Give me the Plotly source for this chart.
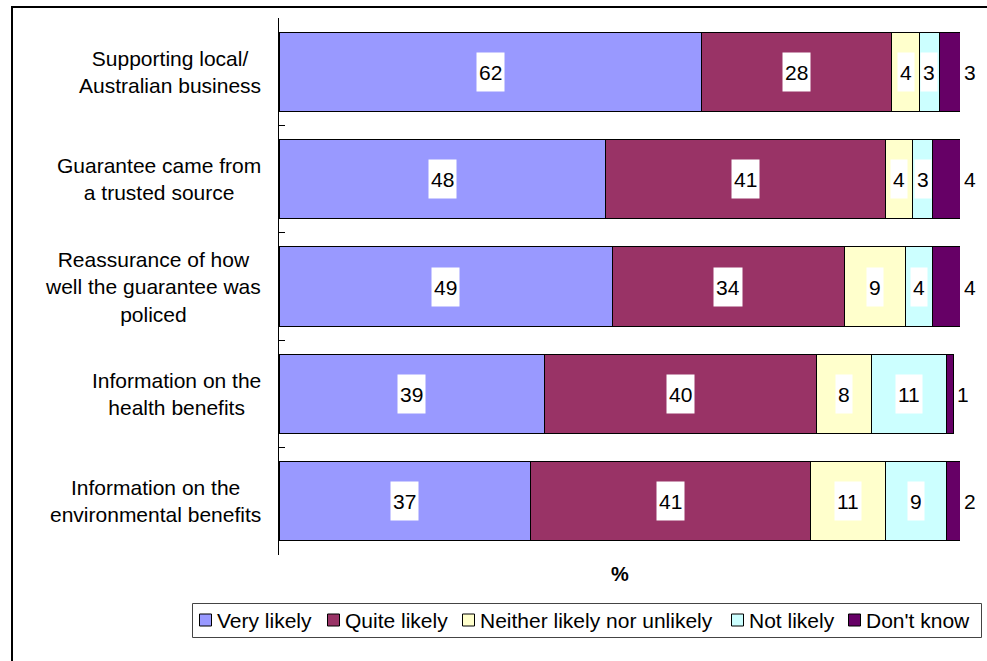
import plotly.graph_objects as go

# ---- data ----
categories = [
    "Supporting local/<br>Australian business",
    "Guarantee came from<br>a trusted source",
    "Reassurance of how<br>well the guarantee was<br>policed",
    "Information on the<br>health benefits",
    "Information on the<br>environmental benefits",
]
series_names = ["Very likely", "Quite likely", "Neither likely nor unlikely",
                "Not likely", "Don't know"]
very_likely = [62, 48, 49, 39, 37]
quite_likely = [28, 41, 34, 40, 41]
neither = [4, 4, 9, 8, 11]
not_likely = [3, 3, 4, 11, 9]
dont_know = [3, 4, 4, 1, 2]
series_values = [very_likely, quite_likely, neither, not_likely, dont_know]
colors = ["#9999FF", "#993366", "#FFFFCC", "#CCFFFF", "#660066"]

# ---- layout geometry (pixels) ----
W, H = 987, 661
L, R, T, B = 279, 27, 18, 106
PW, PH = W - L - R, H - T - B
FONT = "Liberation Sans, Arial, sans-serif"


def px_x(px):
    return (px - L) / PW


def px_y(py):
    return (H - B - py) / PH


fig = go.Figure()
for name, vals, col in zip(series_names, series_values, colors):
    fig.add_trace(go.Bar(
        y=categories, x=vals, name=name, orientation="h",
        marker=dict(color=col, line=dict(color="#000000", width=1)),
        showlegend=False, hoverinfo="x+name",
    ))

annotations = []
# value labels on white boxes
cum = [0] * len(categories)
for s, vals in enumerate(series_values):
    for i, v in enumerate(vals):
        last = s == len(series_values) - 1
        if last:
            annotations.append(dict(
                x=cum[i] + v, y=categories[i], xref="x", yref="y",
                text=str(v), showarrow=False, xanchor="left", xshift=1,
                font=dict(family=FONT, size=21, color="#000000"),
                bgcolor="#FFFFFF", borderpad=2, height=34,
            ))
        else:
            annotations.append(dict(
                x=cum[i] + v / 2, y=categories[i], xref="x", yref="y",
                text=str(v), showarrow=False,
                font=dict(family=FONT, size=21, color="#000000"),
                bgcolor="#FFFFFF", borderpad=2, height=34,
            ))
        cum[i] += v

# category labels, centred lines, right-aligned block
for c in categories:
    annotations.append(dict(
        x=0, y=c, xref="paper", yref="y", text=c, showarrow=False,
        xanchor="right", align="center", xshift=-16,
        font=dict(family=FONT, size=21, color="#000000"),
    ))

# axis title
annotations.append(dict(
    x=0.5, y=px_y(574), xref="paper", yref="paper", text="<b>%</b>",
    showarrow=False, xanchor="center", yanchor="middle",
    font=dict(family=FONT, size=20, color="#000000"),
))

shapes = []
# outer frame
shapes.append(dict(type="rect", xref="paper", yref="paper",
                   x0=px_x(12), x1=px_x(W + 20), y0=px_y(7), y1=px_y(H + 20),
                   line=dict(color="#000000", width=2), layer="below"))

# legend box
shapes.append(dict(type="rect", xref="paper", yref="paper",
                   x0=px_x(192.5), x1=px_x(981.5), y0=px_y(603.5), y1=px_y(637.5),
                   line=dict(color="#444444", width=1), fillcolor="#FFFFFF"))
legend_sq_x = [199, 327, 462, 731, 848]
legend_cy = 620
for name, col, sx in zip(series_names, colors, legend_sq_x):
    shapes.append(dict(type="rect", xref="paper", yref="paper",
                       x0=px_x(sx + 0.5), x1=px_x(sx + 12.5),
                       y0=px_y(legend_cy - 6), y1=px_y(legend_cy + 6),
                       line=dict(color="#000000", width=1), fillcolor=col))
    annotations.append(dict(
        x=px_x(sx + 18), y=px_y(legend_cy), xref="paper", yref="paper",
        text=name, showarrow=False, xanchor="left", yanchor="middle",
        xshift=-2, font=dict(family=FONT, size=21, color="#000000"),
    ))

fig.update_layout(
    width=W, height=H,
    margin=dict(l=L, r=R, t=T, b=B, pad=0),
    barmode="stack", bargap=0.264,
    plot_bgcolor="#FFFFFF", paper_bgcolor="#FFFFFF",
    font=dict(family=FONT, size=21, color="#000000"),
    showlegend=False,
    xaxis=dict(range=[0, 100], showticklabels=False, showgrid=False,
               zeroline=False, showline=False, ticks=""),
    yaxis=dict(type="category", categoryorder="array", categoryarray=categories,
               autorange="reversed", showticklabels=False, showgrid=False,
               zeroline=False, showline=True, linecolor="#000000", linewidth=1,
               ticks="inside", ticklen=6, tickcolor="#000000", tickwidth=1,
               tickson="boundaries"),
    annotations=annotations,
    shapes=shapes,
)

fig.write_html("out.html")
